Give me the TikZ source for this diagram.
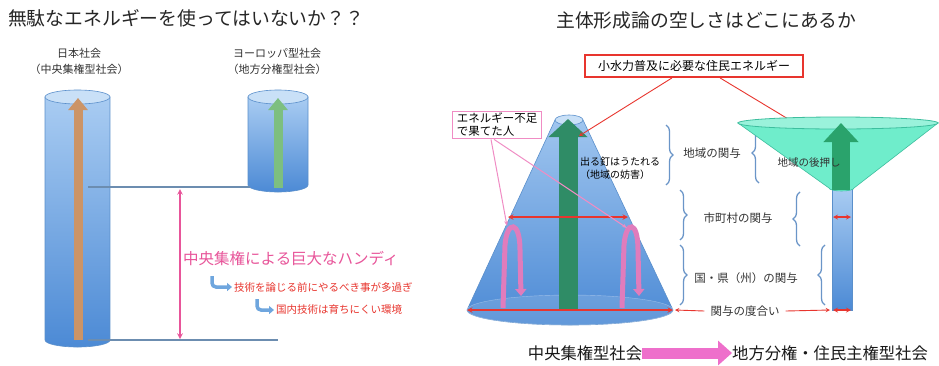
\documentclass[tikz,border=0pt]{standalone}
\usepackage{fontspec}
\setmainfont{Noto Sans CJK JP}
\usepackage{tikz}
\usetikzlibrary{shapes.geometric, arrows, arrows.meta, positioning, fit, calc, decorations.pathreplacing}
\usepackage{xcolor}
\definecolor{tubeLight}{HTML}{A9CCF2}
\definecolor{tubeDark}{HTML}{4C8AD5}
\definecolor{tubeEdge}{HTML}{5A8FCB}
\definecolor{capBlue}{HTML}{C9E0F7}
\definecolor{handiPink}{HTML}{E8559A}
\definecolor{noteRed}{HTML}{E8352E}
\definecolor{hookBlue}{HTML}{6FA6DE}
\definecolor{levelLine}{HTML}{6C8DB0}
\definecolor{braceBlue}{HTML}{6A95C8}
\definecolor{mintFill}{HTML}{6FEDCB}
\definecolor{mintEdge}{HTML}{3DBE9E}
\definecolor{leafGreen}{HTML}{7DBF80}
\definecolor{clayBrown}{HTML}{CC9466}
\definecolor{pineGreen}{HTML}{2F8C66}
\definecolor{sproutGreen}{HTML}{2AA36C}
\definecolor{arcPink}{HTML}{E07CBC}
\definecolor{linePink}{HTML}{F08CC4}
\definecolor{shiftPink}{HTML}{EE6FCB}
\tikzstyle{heading} = [font=\fontsize{18.8}{21}\selectfont, text=black!85, anchor=west, inner sep=0pt]
\tikzstyle{caption} = [font=\fontsize{11}{13}\selectfont, text=black!80, inner sep=0pt]
\tikzstyle{handi} = [font=\fontsize{15.5}{18}\selectfont, text=handiPink, anchor=west, inner sep=0pt]
\tikzstyle{remark} = [font=\fontsize{10.5}{12}\selectfont, text=noteRed, anchor=west, inner sep=0pt]
\tikzstyle{tier} = [font=\fontsize{11.5}{13}\selectfont, text=black!80, inner sep=0pt]
\tikzstyle{redbox} = [rectangle, draw=noteRed, line width=1.8pt, fill=white, minimum width=218pt, minimum height=22pt, font=\fontsize{12}{14}\selectfont]
\tikzstyle{pinkbox} = [rectangle, draw=linePink, line width=1pt, fill=white, minimum width=89pt, minimum height=27pt, align=left, font=\fontsize{11.5}{13}\selectfont, inner sep=2pt]
\tikzstyle{society} = [font=\fontsize{16.3}{18}\selectfont, text=black!90, inner sep=0pt]
\tikzstyle{gauge} = [line width=1.4pt, draw=noteRed, <->, >=stealth]
\tikzstyle{pointer} = [line width=0.9pt, draw=noteRed, ->, >=stealth]
\tikzstyle{curly} = [decorate, decoration={brace, amplitude=7pt}, draw=braceBlue, line width=1.3pt]
\tikzstyle{turn} = [line width=3.5pt, draw=hookBlue, rounded corners=4pt, -{Triangle[length=5pt, width=8pt]}]
\tikzstyle{pipe} = [top color=tubeLight, bottom color=tubeDark, draw=tubeEdge, line width=0.6pt]
\tikzstyle{lid} = [fill=capBlue, draw=tubeEdge, line width=0.6pt]
\tikzstyle{upflow} = [line width=9pt, -{Triangle[length=12pt, width=19pt]}]
\tikzstyle{uturn} = [line width=5pt, draw=arcPink, -{Triangle[length=7pt, width=11pt]}]

\begin{document}
\begin{tikzpicture}[x=1pt, y=1pt, node distance=16pt]
    \useasboundingbox (0,0) rectangle (939,-365);
    \fill [white] (0,0) rectangle (939,-365);

    \node (waste) [heading] at (8,-18) {無駄なエネルギーを使ってはいないか？？};
    \node (japan) [caption] at (79,-53) {日本社会};
    \node (japansub) [caption, below of=japan] {（中央集権型社会）};
    \node (europe) [caption] at (277,-53) {ヨーロッパ型社会};
    \node (europesub) [caption, below of=europe] {（地方分権型社会）};

    \path [pipe] (45,-97) -- (45,-340) arc (180:360:32.5 and 7) -- (110,-97) -- cycle;
    \path [lid] (77.5,-97) ellipse (32.5 and 7);
    \draw [upflow, draw=clayBrown] (78,-340) -- (78,-98);
    \path [pipe] (248,-97) -- (248,-185) arc (180:360:30 and 7) -- (308,-97) -- cycle;
    \path [lid] (278,-97) ellipse (30 and 7);
    \draw [upflow, draw=leafGreen] (278,-188) -- (278,-98);

    \coordinate (highL) at (88,-187);
    \coordinate (highR) at (250,-187);
    \coordinate (lowL) at (88,-340);
    \coordinate (lowR) at (278,-340);
    \draw [levelLine, line width=1.5pt] (highL) -- (highR);
    \draw [levelLine, line width=1.5pt] (lowL) -- (lowR);
    \coordinate (gapTop) at (180,-189);
    \coordinate (gapBot) at (180,-339);
    \draw [handiPink, line width=1.5pt, <->, >=stealth] (gapTop) -- (gapBot);

    \node (handicap) [handi] at (183,-259) {中央集権による巨大なハンディ};
    \node (tech) [remark] at (234,-287) {技術を論じる前にやるべき事が多過ぎ};
    \node (domestic) [remark] at (276,-310) {国内技術は育ちにくい環境};
    \draw [turn] ($(tech.west)+(-22,11)$) |- ($(tech.west)+(-2,0)$);
    \draw [turn] ($(domestic.west)+(-19,11)$) |- ($(domestic.west)+(-2,0)$);

    \node (hollow) [heading] at (556,-20) {主体形成論の空しさはどこにあるか};

    \path [pipe, top color=tubeLight!90!tubeDark] (467,-310) -- (555,-120) -- (583,-120) -- (673,-310) arc (0:-180:103 and 15) -- cycle;
    \path [draw=white, fill=white, fill opacity=0.12, draw opacity=0.35] (570,-310) ellipse (103 and 15);
    \path [lid] (569,-120) ellipse (14 and 5);
    \draw [draw=pineGreen, line width=19pt, -{Triangle[length=18pt, width=38pt]}] (568,-310) -- (568,-119);

    \coordinate (midL) at (508,-217);
    \coordinate (midR) at (628,-217);
    \draw [gauge] (midL) -- (midR);
    \coordinate (baseL) at (467,-310);
    \coordinate (baseR) at (673,-310);
    \draw [gauge] (baseL) -- (baseR);

    \draw [uturn] (503,-308) -- (505,-245) .. controls (507,-220) and (520,-220) .. (520,-250) -- (521,-296);
    \draw [uturn] (622,-308) -- (624,-245) .. controls (626,-220) and (638,-220) .. (638,-250) -- (639,-296);

    \node (tired) [pinkbox] at (497,-125) {エネルギー不足\\で果てた人};
    \coordinate (arcL) at (507,-226);
    \coordinate (arcR) at (627,-228);
    \draw [linePink, line width=1pt, -{Stealth[length=5pt]}] ($(tired.south)+(-6,0)$) -- (arcL);
    \draw [linePink, line width=1pt, -{Stealth[length=5pt]}] ($(tired.south)+(-3,0)$) -- (arcR);

    \node (energy) [redbox] at (694,-66) {小水力普及に必要な住民エネルギー};
    \coordinate (coneHead) at (579,-136);
    \coordinate (funnelHead) at (823,-140);
    \draw [pointer] ($(energy.south)+(-22,0)$) -- (coneHead);
    \draw [pointer] ($(energy.south)+(26,0)$) -- (funnelHead);

    \node (nail) [anchor=west, align=left, font=\fontsize{10}{13}\selectfont, inner sep=0pt] at (580,-168) {出る釘はうたれる\\（地域の妨害）};

    \draw [curly] (666,-125) -- (666,-185);
    \node (localrole) [tier] at (712,-153) {地域の関与};
    \draw [curly] (759,-183) -- (759,-123);
    \draw [curly] (680,-190) -- (680,-240);
    \node (cityrole) [tier] at (738,-218) {市町村の関与};
    \draw [curly] (800,-246) -- (800,-192);
    \draw [curly] (680,-245) -- (680,-305);
    \node (staterole) [tier] at (746,-278) {国・県（州）の関与};
    \draw [curly] (825,-305) -- (825,-245);

    \path [pipe] (832,-188) -- (832,-310) -- (852,-310) -- (852,-188) -- cycle;
    \path [fill=mintFill, draw=mintEdge, line width=0.6pt] (738,-123) -- (829,-188) arc (180:360:12.5 and 3) -- (938,-123) -- cycle;
    \path [fill=mintFill!70!white, draw=mintEdge, line width=0.8pt] (838,-123) ellipse (100 and 6);
    \draw [draw=sproutGreen, line width=18pt, -{Triangle[length=19pt, width=34pt]}] (841,-190) -- (841,-123);
    \node (backing) [font=\fontsize{10.5}{12}\selectfont, text=black!80, inner sep=0pt] at (809,-163) {地域の後押し};

    \coordinate (pipeMidL) at (833,-217);
    \coordinate (pipeMidR) at (851,-217);
    \draw [gauge, line width=1.2pt] (pipeMidL) -- (pipeMidR);
    \coordinate (pipeFootL) at (833,-310);
    \coordinate (pipeFootR) at (851,-310);
    \draw [gauge, line width=1.2pt] (pipeFootL) -- (pipeFootR);

    \node (degree) [tier] at (745,-311) {関与の度合い};
    \coordinate (coneEdge) at (675,-310);
    \coordinate (tubeFoot) at (830,-310);
    \draw [pointer] ($(degree.west)+(-6,0)$) -- (coneEdge);
    \draw [pointer] ($(degree.east)+(6,0)$) -- (tubeFoot);

    \node (central) [society] at (585,-353) {中央集権型社会};
    \node (localgov) [society] at (830,-353) {地方分権・住民主権型社会};
    \draw [shiftPink, line width=11pt, -{Triangle[length=14pt, width=24pt]}] (central.east) -- (localgov.west);
\end{tikzpicture}
\end{document}
